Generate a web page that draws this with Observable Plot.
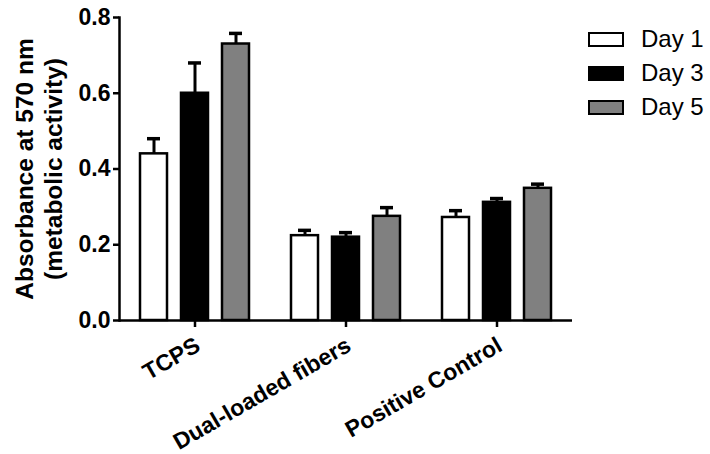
<!DOCTYPE html>
<html><head><meta charset="utf-8">
<script src="https://cdn.jsdelivr.net/npm/d3@7"></script>
<script src="https://cdn.jsdelivr.net/npm/@observablehq/plot@0.6"></script>
<style>
body{margin:0;background:#fff;}
#wrap{position:relative;width:710px;height:454px;font-family:"Liberation Sans",Arial,sans-serif;}
#legend{position:absolute;left:588px;top:22px;}
.item{display:flex;align-items:center;height:34px;font-size:24px;color:#000;}
.sw{box-sizing:border-box;width:36px;height:15px;border:2.5px solid #000;margin-right:17px;}
</style></head><body><div id="wrap"><div id="legend"></div></div>
<script>
const groups = ["TCPS", "Dual-loaded fibers", "Positive Control"];
const days = ["Day 1", "Day 3", "Day 5"];
const dayColors = ["#ffffff", "#000000", "#808080"];
const day1 = [0.44, 0.224, 0.272];
const day1Err = [0.04, 0.014, 0.018];
const day3 = [0.60, 0.22, 0.312];
const day3Err = [0.08, 0.012, 0.01];
const day5 = [0.73, 0.275, 0.349];
const day5Err = [0.028, 0.023, 0.011];
const yTicks = [0, 0.2, 0.4, 0.6, 0.8];
const yTitle = "Absorbance at 570 nm\n(metabolic activity)";

const series = [[day1, day1Err], [day3, day3Err], [day5, day5Err]];
const rows = [];
groups.forEach((g, i) => days.forEach((d, j) => {
  rows.push({group: g, day: d, value: series[j][0][i], upper: series[j][0][i] + series[j][1][i]});
}));

const plot = Plot.plot({
  width: 710, height: 454,
  marginLeft: 118, marginRight: 137, marginTop: 17, marginBottom: 134,
  style: {fontFamily: '"Liberation Sans", Arial, sans-serif', fontSize: "23px", fontWeight: "bold", color: "#000", background: "#fff", overflow: "visible"},
  fx: {domain: groups, paddingInner: 0, paddingOuter: 0, label: null},
  x: {domain: days, paddingInner: 0.333, paddingOuter: 0.476, axis: null},
  y: {domain: [0, 0.8], label: null},
  color: {domain: days, range: dayColors},
  marks: [
    Plot.barY(rows, {fx: "group", x: "day", y: "value", fill: "day", stroke: "#000", strokeWidth: 2.5}),
    Plot.ruleX(rows, {fx: "group", x: "day", y1: "value", y2: "upper", strokeWidth: 3}),
    Plot.tickY(rows, {fx: "group", x: "day", y: "upper", strokeWidth: 3.5, insetLeft: 7, insetRight: 7}),
    Plot.ruleY([0], {strokeWidth: 2.5}),
    Plot.frame({anchor: "left", facetAnchor: "left", strokeWidth: 2.5}),
    Plot.axisY(yTicks, {tickSize: 6, tickFormat: d3.format(".1f"), strokeWidth: 2.5, label: null, fontSize: 23}),
    Plot.axisFx({anchor: "bottom", tickSize: 7, tickFormat: null, label: null, strokeWidth: 2.5}),
    Plot.axisFx({anchor: "bottom", tickSize: 0, tickPadding: 10, tickRotate: -30, label: null, fontSize: 23, dy: 13, dx: 3}),
    Plot.text([{group: groups[0], t: yTitle}], {fx: "group", text: "t", frameAnchor: "left", textAnchor: "middle", rotate: -90, dx: -81, lineHeight: 1.17, fontSize: 24.5, fontWeight: "bold"})
  ]
});
document.getElementById("wrap").appendChild(plot);

const legend = document.getElementById("legend");
days.forEach((d, j) => {
  const item = document.createElement("div");
  item.className = "item";
  const sw = document.createElement("div");
  sw.className = "sw";
  sw.style.background = dayColors[j];
  const lab = document.createElement("span");
  lab.textContent = d;
  item.appendChild(sw);
  item.appendChild(lab);
  legend.appendChild(item);
});
</script></body></html>
